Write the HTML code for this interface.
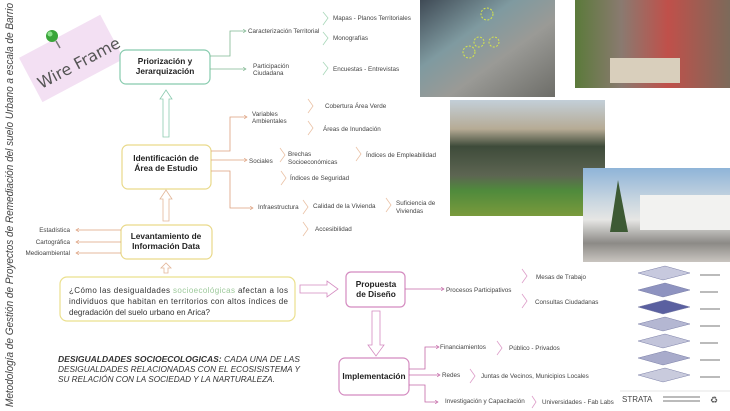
<!DOCTYPE html>
<html><head><meta charset="utf-8"><style>
html,body{margin:0;padding:0;width:730px;height:411px;overflow:hidden;background:#fff;font-family:"Liberation Sans",sans-serif;}
svg text{font-family:"Liberation Sans",sans-serif;}
.t{font-size:6.3px;fill:#444;}
.b{font-size:8.3px;font-weight:bold;fill:#222;}
</style></head><body>
<svg width="730" height="411" viewBox="0 0 730 411" xmlns="http://www.w3.org/2000/svg">
<defs>
<marker id="ag" markerWidth="5" markerHeight="5" refX="4" refY="2.5" orient="auto"><path d="M0,0 L4,2.5 L0,5" fill="none" stroke="#7fb791" stroke-width="0.8"/></marker>
<marker id="ao" markerWidth="5" markerHeight="5" refX="4" refY="2.5" orient="auto"><path d="M0,0 L4,2.5 L0,5" fill="none" stroke="#dda07e" stroke-width="0.8"/></marker>
<marker id="ap" markerWidth="5" markerHeight="5" refX="4" refY="2.5" orient="auto"><path d="M0,0 L4,2.5 L0,5" fill="none" stroke="#c467a6" stroke-width="0.8"/></marker>
<linearGradient id="map" x1="0" y1="0" x2="1" y2="1"><stop offset="0" stop-color="#3f4a55"/><stop offset="0.35" stop-color="#7f9aa0"/><stop offset="0.6" stop-color="#9a9a96"/><stop offset="1" stop-color="#6d6d68"/></linearGradient>
<linearGradient id="ppl" x1="0" y1="0" x2="1" y2="0"><stop offset="0" stop-color="#5b7a3a"/><stop offset="0.3" stop-color="#8a7a70"/><stop offset="0.6" stop-color="#c0504a"/><stop offset="1" stop-color="#7c6a5a"/></linearGradient>
<linearGradient id="fld" x1="0" y1="0" x2="0" y2="1"><stop offset="0" stop-color="#c3cfd8"/><stop offset="0.25" stop-color="#b6ab95"/><stop offset="0.4" stop-color="#3e4b3a"/><stop offset="0.65" stop-color="#5d6552"/><stop offset="0.78" stop-color="#4f8a3c"/><stop offset="1" stop-color="#7a9a3c"/></linearGradient>
<linearGradient id="bld" x1="0" y1="0" x2="0" y2="1"><stop offset="0" stop-color="#8fb4d8"/><stop offset="0.35" stop-color="#c9d6e0"/><stop offset="0.55" stop-color="#e6e6e4"/><stop offset="0.8" stop-color="#8c8a86"/><stop offset="1" stop-color="#c9c5c0"/></linearGradient>
</defs>

<!-- vertical title -->
<text transform="translate(13,407) rotate(-90)" font-size="11" font-style="italic" fill="#444" textLength="404" lengthAdjust="spacingAndGlyphs">Metodología de Gestión de Proyectos de Remediación del suelo Urbano a escala de Barrio</text>

<!-- wire frame note -->
<g transform="rotate(-28 70 58)">
<rect x="25" y="34" width="92" height="50" fill="#f3e0f3"/>
<text x="30" y="72" font-size="16" fill="#555" style="font-family:'DejaVu Sans',sans-serif">Wire Frame</text>
</g>
<circle cx="52" cy="36" r="6" fill="#3aa53a"/><circle cx="50" cy="34" r="2.5" fill="#8be08b"/>
<line x1="56" y1="41" x2="60" y2="48" stroke="#777" stroke-width="1.5"/>

<!-- photos -->
<rect x="420" y="0" width="135" height="97" fill="url(#map)"/>
<circle cx="487" cy="14" r="6" fill="none" stroke="#d6e54a" stroke-dasharray="2 1.5"/>
<circle cx="479" cy="42" r="5" fill="none" stroke="#d6e54a" stroke-dasharray="2 1.5"/>
<circle cx="494" cy="42" r="5" fill="none" stroke="#d6e54a" stroke-dasharray="2 1.5"/>
<circle cx="469" cy="52" r="6" fill="none" stroke="#d6e54a" stroke-dasharray="2 1.5"/>
<rect x="575" y="0" width="155" height="88" fill="url(#ppl)"/>
<rect x="610" y="58" width="70" height="25" fill="#d9cfbc"/>
<rect x="450" y="100" width="155" height="116" fill="url(#fld)"/>
<rect x="583" y="168" width="147" height="94" fill="url(#bld)"/>
<rect x="640" y="195" width="90" height="35" fill="#f2f2f0"/>
<polygon points="610,232 618,180 628,232" fill="#3d5a34"/>

<!-- strata -->
<g fill="#c7c9de" stroke="#7c80a8" stroke-width="0.5">
<polygon points="638,273 665,266 690,273 663,280"/>
<polygon points="638,290 665,283 690,290 663,297" fill="#8e93c0"/>
<polygon points="638,307 665,300 690,307 663,314" fill="#5a60a0"/>
<polygon points="638,324 665,317 690,324 663,331" fill="#b4b7d2"/>
<polygon points="638,341 665,334 690,341 663,348" fill="#c2c4da"/>
<polygon points="638,358 665,351 690,358 663,365" fill="#a8abcb"/>
<polygon points="638,375 665,368 690,375 663,382" fill="#c9cbdd"/>
</g>
<g stroke="#bbb" stroke-width="2">
<line x1="700" y1="275" x2="720" y2="275"/><line x1="700" y1="292" x2="718" y2="292"/><line x1="700" y1="309" x2="720" y2="309"/><line x1="700" y1="326" x2="720" y2="326"/><line x1="700" y1="343" x2="718" y2="343"/><line x1="700" y1="360" x2="720" y2="360"/><line x1="700" y1="377" x2="720" y2="377"/>
<line x1="663" y1="397" x2="700" y2="397"/><line x1="663" y1="401" x2="700" y2="401"/>
</g>
<line x1="620" y1="391" x2="730" y2="391" stroke="#ccc" stroke-width="0.6"/>
<text x="622" y="402" font-size="8" fill="#444">STRATA</text>
<text x="710" y="403" font-size="9" fill="#555">♻</text>

<!-- boxes -->
<rect x="120" y="50" width="90" height="34" rx="6" fill="#fff" stroke="#87cbae" stroke-width="1.2"/>
<text class="b" x="165" y="64" text-anchor="middle">Priorización y</text>
<text class="b" x="165" y="74" text-anchor="middle">Jerarquización</text>
<rect x="122" y="145" width="89" height="44" rx="6" fill="#fff" stroke="#e9d98a" stroke-width="1.2"/>
<text class="b" x="166" y="161" text-anchor="middle">Identificación de</text>
<text class="b" x="166" y="171" text-anchor="middle">Área de Estudio</text>
<rect x="121" y="225" width="91" height="34" rx="6" fill="#fff" stroke="#e9d98a" stroke-width="1.2"/>
<text class="b" x="166" y="239" text-anchor="middle">Levantamiento de</text>
<text class="b" x="166" y="249" text-anchor="middle">Información Data</text>
<rect x="60" y="277" width="235" height="44" rx="7" fill="#fff" stroke="#ebe08e" stroke-width="1.2"/>
<text font-size="8" fill="#333" x="69" y="293" textLength="219">¿Cómo las desigualdades <tspan fill="#9cc99a">socioecológicas</tspan> afectan a los</text>
<text font-size="8" fill="#333" x="69" y="304" textLength="219">individuos que habitan en territorios con altos índices de</text>
<text font-size="8" fill="#333" x="69" y="315">degradación del suelo urbano en Arica?</text>
<rect x="346" y="272" width="59" height="35" rx="5" fill="#fff" stroke="#d48bc0" stroke-width="1.2"/>
<text class="b" x="376" y="287" text-anchor="middle">Propuesta</text>
<text class="b" x="376" y="297" text-anchor="middle">de Diseño</text>
<rect x="339" y="358" width="70" height="37" rx="6" fill="#fff" stroke="#d48bc0" stroke-width="1.2"/>
<text class="b" x="374" y="379" text-anchor="middle">Implementación</text>

<!-- hollow arrows -->
<path d="M163,137 V99 H160 L166,90 L172,99 H169 V137 Z" fill="#fff" stroke="#8ccbb0" stroke-width="0.8"/>
<path d="M163,221 V199 H160 L166,190 L172,199 H169 V221 Z" fill="#fff" stroke="#e3b699" stroke-width="0.8"/>
<path d="M164,273 V268 H161 L166,263 L171,268 H168 V273 Z" fill="#fff" stroke="#e3b699" stroke-width="0.8"/>
<path d="M300,285 H327 V281 L338,289 L327,297 V293 H300 Z" fill="#fff" stroke="#d48bc0" stroke-width="0.8"/>
<path d="M372,311 V345 H368 L376,356 L384,345 H380 V311 Z" fill="#fff" stroke="#d48bc0" stroke-width="0.8"/>

<!-- green connectors -->
<g stroke="#7fb791" stroke-width="0.8" fill="none">
<path d="M210,56 H230 V31 H246" marker-end="url(#ag)"/>
<path d="M210,69 H246" marker-end="url(#ag)"/>
</g>
<g fill="none" stroke="#a8d7b9" stroke-width="0.8">
<path d="M323,12 L328,18 L323,25"/><path d="M323,32 L328,38 L323,45"/><path d="M323,62 L328,68 L323,75"/>
</g>
<text class="t" x="248" y="33">Caracterización Territorial</text>
<text class="t" x="253" y="68">Participación</text><text class="t" x="253" y="75">Ciudadana</text>
<text class="t" x="333" y="20">Mapas - Planos Territoriales</text>
<text class="t" x="333" y="40">Monografías</text>
<text class="t" x="333" y="71">Encuestas - Entrevistas</text>

<!-- orange connectors -->
<g stroke="#dda07e" stroke-width="0.8" fill="none">
<path d="M211,151 H230 V117 H247" marker-end="url(#ao)"/>
<path d="M211,160 H247" marker-end="url(#ao)"/>
<path d="M211,171 H230 V208 H253" marker-end="url(#ao)"/>
<path d="M121,230 H76" marker-end="url(#ao)"/>
<path d="M121,242 H76" marker-end="url(#ao)"/>
<path d="M121,253 H76" marker-end="url(#ao)"/>
</g>
<g fill="none" stroke="#eac2a6" stroke-width="0.8">
<path d="M308,99 L313,106 L308,113"/><path d="M308,121 L313,128 L308,135"/>
<path d="M280,148 L285,155 L280,162"/><path d="M356,147 L361,154 L356,161"/>
<path d="M281,171 L286,178 L281,185"/>
<path d="M303,200 L308,207 L303,214"/><path d="M386,198 L391,205 L386,212"/>
<path d="M303,222 L308,229 L303,236"/>
</g>
<text class="t" x="252" y="116">Variables</text><text class="t" x="252" y="123">Ambientales</text>
<text class="t" x="325" y="108">Cobertura Área Verde</text>
<text class="t" x="323" y="131">Áreas de Inundación</text>
<text class="t" x="249" y="163">Sociales</text>
<text class="t" x="288" y="156">Brechas</text><text class="t" x="288" y="164">Socioeconómicas</text>
<text class="t" x="366" y="157">Índices de Empleabilidad</text>
<text class="t" x="290" y="180">Índices de Seguridad</text>
<text class="t" x="258" y="209">Infraestructura</text>
<text class="t" x="313" y="208">Calidad de la Vivienda</text>
<text class="t" x="396" y="205">Suficiencia de</text><text class="t" x="396" y="213">Viviendas</text>
<text class="t" x="315" y="231">Accesibilidad</text>
<text class="t" x="70" y="232" text-anchor="end">Estadística</text>
<text class="t" x="70" y="244" text-anchor="end">Cartográfica</text>
<text class="t" x="70" y="255" text-anchor="end">Medioambiental</text>

<!-- pink connectors -->
<g stroke="#c467a6" stroke-width="0.8" fill="none">
<path d="M405,289 H444" marker-end="url(#ap)"/>
<path d="M409,369 H425 V347 H439" marker-end="url(#ap)"/>
<path d="M409,375 H440" marker-end="url(#ap)"/>
<path d="M409,385 H425 V402 H438" marker-end="url(#ap)"/>
</g>
<g fill="none" stroke="#dd9dc9" stroke-width="0.8">
<path d="M522,269 L527,276 L522,283"/><path d="M522,294 L527,301 L522,308"/>
<path d="M497,341 L502,348 L497,355"/><path d="M470,369 L475,376 L470,383"/>
<path d="M532,396 L536,402 L532,408"/>
</g>
<text class="t" x="446" y="292">Procesos Participativos</text>
<text class="t" x="536" y="279">Mesas de Trabajo</text>
<text class="t" x="535" y="304">Consultas Ciudadanas</text>
<text class="t" x="440" y="349">Financiamientos</text>
<text class="t" x="509" y="350">Público - Privados</text>
<text class="t" x="442" y="377">Redes</text>
<text class="t" x="481" y="378">Juntas de Vecinos, Municipios Locales</text>
<text class="t" x="445" y="403">Investigación y Capacitación</text>
<text class="t" x="542" y="404">Universidades - Fab Labs</text>

<!-- definition -->
<g font-size="8.2" font-style="italic" fill="#333">
<text x="58" y="362" textLength="242" lengthAdjust="spacingAndGlyphs"><tspan font-weight="bold">DESIGUALDADES SOCIOECOLOGICAS:</tspan> CADA UNA DE LAS</text>
<text x="58" y="372" textLength="242" lengthAdjust="spacingAndGlyphs">DESIGUALDADES RELACIONADAS CON EL ECOSISISTEMA Y</text>
<text x="58" y="382">SU RELACIÓN CON LA SOCIEDAD Y LA NARTURALEZA.</text>
</g>
</svg>
</body></html>
